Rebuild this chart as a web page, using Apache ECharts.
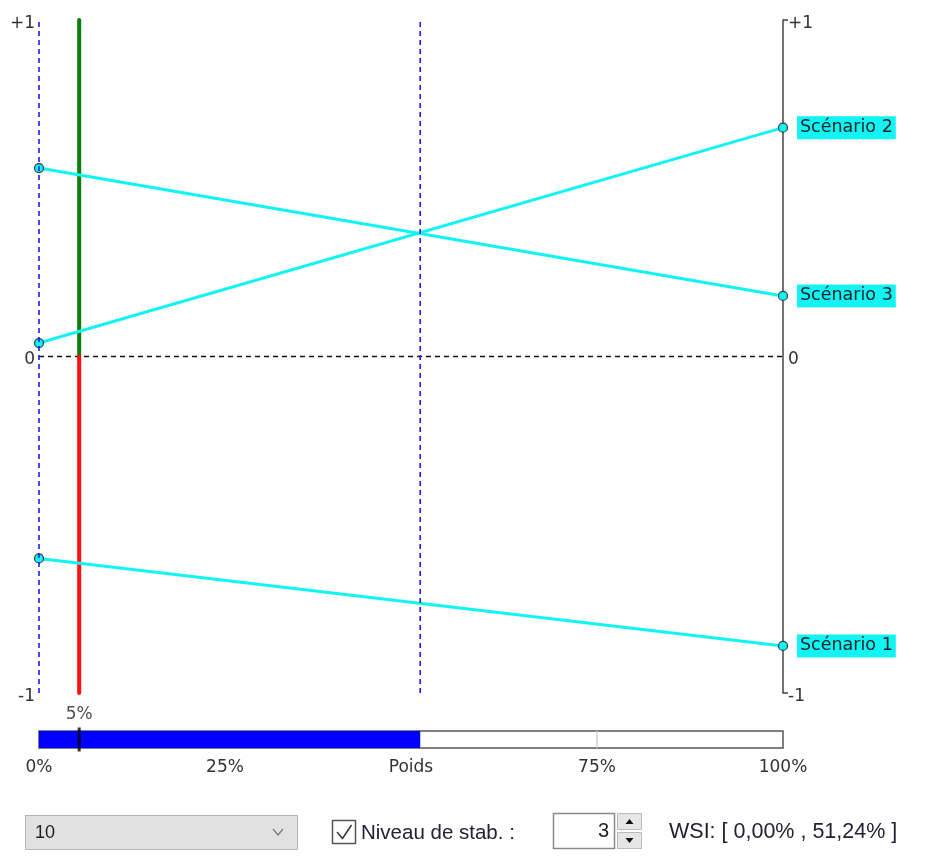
<!DOCTYPE html>
<html>
<head>
<meta charset="utf-8">
<script src="https://cdn.jsdelivr.net/npm/echarts@6/dist/echarts.min.js"></script>
<style>
html,body{margin:0;padding:0;background:#fff;}
#chart{width:944px;height:863px;}
</style>
</head>
<body>
<div id="chart"></div>
<script>
// ---- data ----
const scenarioNames = ['Scénario 1', 'Scénario 2', 'Scénario 3'];
const scoresAtWeight0 = [-0.60, 0.04, 0.56];
const scoresAtWeight100 = [-0.86, 0.68, 0.18];
const currentWeight = 5.4;
const stabilityInterval = [0, 51.24];
const weightTickValues = [0, 25, 50, 75, 100];
const weightTickLabels = ['0%', '25%', 'Poids', '75%', '100%'];
const scoreTickLabels = { '-1': '-1', '0': '0', '1': '+1' };
const stabilityLevel = 3;
const comboValue = '10';

const FONT = 'DejaVu Sans';
const UIFONT = 'Liberation Sans';

const chart = echarts.init(document.getElementById('chart'), null, { renderer: 'canvas' });

const scenarioSeries = scenarioNames.map((name, i) => ({
  name: name,
  type: 'line',
  xAxisIndex: 0,
  yAxisIndex: 0,
  z: 5,
  data: [[0, scoresAtWeight0[i]], [100, scoresAtWeight100[i]]],
  lineStyle: { color: '#12f4f4', width: 3 },
  symbol: 'circle',
  symbolSize: 9,
  itemStyle: { color: '#12f4f4', borderColor: '#2f3f3f', borderWidth: 1.2 },
  endLabel: {
    show: true,
    formatter: name,
    distance: 14,
    color: '#142424',
    fontFamily: FONT,
    fontSize: 17.5,
    backgroundColor: '#12f4f4',
    padding: [4, 3, 1, 3]
  },
  emphasis: { disabled: true },
  animation: false
}));

const scoreLabel = {
  color: '#333', fontFamily: FONT, fontSize: 17,
  formatter: (v) => '{t|' + scoreTickLabels[String(v)] + '}',
  rich: { t: { color: '#333', fontFamily: FONT, fontSize: 17, padding: [7, 0, 0, 0] } }
};

const option = {
  animation: false,
  backgroundColor: '#fff',
  grid: [
    { left: 39, top: 20, width: 744, height: 673 },
    { left: 39, top: 731, width: 744, height: 17 }
  ],
  xAxis: [
    { type: 'value', gridIndex: 0, min: 0, max: 100, show: false },
    {
      type: 'value', gridIndex: 1, min: 0, max: 100, interval: 25, z: 4,
      axisLine: { show: false },
      axisTick: { show: true, inside: true, length: 17, customValues: [75], lineStyle: { color: '#cfcfcf', width: 1.5 } },
      splitLine: { show: false },
      axisLabel: {
        margin: 11, color: '#333', fontFamily: FONT, fontSize: 17,
        customValues: weightTickValues,
        formatter: (v) => weightTickLabels[weightTickValues.indexOf(v)]
      }
    }
  ],
  yAxis: [
    {
      type: 'value', gridIndex: 0, min: -1, max: 1, interval: 1, position: 'left',
      axisLine: { show: false }, axisTick: { show: false }, splitLine: { show: false },
      axisLabel: Object.assign({ margin: 4 }, scoreLabel)
    },
    {
      type: 'value', gridIndex: 0, min: -1, max: 1, interval: 1, position: 'right',
      axisLine: { show: true, lineStyle: { color: '#444', width: 1.5 } },
      axisTick: { show: true, length: 5, customValues: [-1, 1], lineStyle: { color: '#444', width: 1.5 } },
      splitLine: { show: false },
      axisLabel: Object.assign({ margin: 5 }, scoreLabel)
    },
    { type: 'category', gridIndex: 1, data: ['w'], show: false }
  ],
  series: [
    {
      type: 'line', xAxisIndex: 0, yAxisIndex: 0, z: 2,
      data: [[0, 0], [100, 0]], symbol: 'none',
      lineStyle: { color: '#111', width: 1.5, type: [5, 4] }, silent: true
    },
    {
      type: 'line', xAxisIndex: 0, yAxisIndex: 0, z: 3,
      data: [[currentWeight, 0], [currentWeight, 1]], symbol: 'none',
      lineStyle: { color: '#0a7d0a', width: 4, cap: 'round' }, silent: true
    },
    {
      type: 'line', xAxisIndex: 0, yAxisIndex: 0, z: 3,
      data: [[currentWeight, 0], [currentWeight, -1]], symbol: 'none',
      lineStyle: { color: '#ff1010', width: 4, cap: 'round' }, silent: true
    },
    ...scenarioSeries,
    {
      type: 'line', xAxisIndex: 0, yAxisIndex: 0, z: 6,
      data: [[stabilityInterval[0], -1], [stabilityInterval[0], 1]], symbol: 'none',
      lineStyle: { color: '#1a1aff', width: 1.6, type: [5, 4] }, silent: true
    },
    {
      type: 'line', xAxisIndex: 0, yAxisIndex: 0, z: 6,
      data: [[stabilityInterval[1], -1], [stabilityInterval[1], 1]], symbol: 'none',
      lineStyle: { color: '#1a1aff', width: 1.6, type: [5, 4] }, silent: true
    },
    {
      type: 'bar', xAxisIndex: 1, yAxisIndex: 2, z: 2,
      data: [stabilityInterval[1]], barWidth: 17,
      itemStyle: { color: '#0000ff' },
      showBackground: true,
      backgroundStyle: { color: '#ffffff', borderColor: '#555', borderWidth: 1.5 },
      silent: true
    },
    {
      type: 'scatter', xAxisIndex: 1, yAxisIndex: 2, z: 6,
      data: [[currentWeight, 'w']], symbol: 'rect', symbolSize: [3, 24],
      itemStyle: { color: '#000' },
      label: { show: true, position: 'top', distance: 4, formatter: Math.round(currentWeight) + '%', color: '#222', fontFamily: FONT, fontSize: 17 },
      silent: true
    }
  ],
  graphic: [
    // combo box
    { type: 'rect', shape: { x: 25.5, y: 815.5, width: 272, height: 34 }, style: { fill: '#e1e1e1', stroke: '#b4b4b4', lineWidth: 1 } },
    { type: 'text', x: 35, y: 833, style: { text: comboValue, font: '18px ' + UIFONT, fill: '#222', textVerticalAlign: 'middle' } },
    { type: 'polyline', shape: { points: [[273, 829], [278, 835], [283, 829]] }, style: { stroke: '#777', lineWidth: 1.2, fill: null } },
    // checkbox
    { type: 'rect', shape: { x: 332.5, y: 820.5, width: 23, height: 23 }, style: { fill: '#fff', stroke: '#555', lineWidth: 1.5 } },
    { type: 'polyline', shape: { points: [[337, 832], [342.5, 838.5], [351.5, 825]] }, style: { stroke: '#333', lineWidth: 1.5, fill: null } },
    { type: 'text', x: 361, y: 833, style: { text: 'Niveau de stab. :', font: '20.5px ' + UIFONT, fill: '#223', textVerticalAlign: 'middle' } },
    // number box
    { type: 'rect', shape: { x: 553.5, y: 813.5, width: 61, height: 35 }, style: { fill: '#fff', stroke: '#8a8a8a', lineWidth: 1.5 } },
    { type: 'text', x: 609, y: 831, style: { text: String(stabilityLevel), font: '20px ' + UIFONT, fill: '#222', textAlign: 'right', textVerticalAlign: 'middle' } },
    // spinner
    { type: 'rect', shape: { x: 617.5, y: 813.5, width: 24, height: 16 }, style: { fill: '#e6e6e6', stroke: '#bbb', lineWidth: 1 } },
    { type: 'rect', shape: { x: 617.5, y: 832.5, width: 24, height: 16 }, style: { fill: '#e6e6e6', stroke: '#bbb', lineWidth: 1 } },
    { type: 'polygon', shape: { points: [[625.5, 824], [633.5, 824], [629.5, 819]] }, style: { fill: '#111' } },
    { type: 'polygon', shape: { points: [[625.5, 838], [633.5, 838], [629.5, 843]] }, style: { fill: '#111' } },
    // WSI
    { type: 'text', x: 669, y: 832, style: { text: 'WSI: [ ' + stabilityInterval[0].toFixed(2).replace('.', ',') + '% , ' + stabilityInterval[1].toFixed(2).replace('.', ',') + '% ]', font: '21.5px ' + UIFONT, fill: '#223', textVerticalAlign: 'middle' } }
  ]
};

chart.setOption(option);
</script>
</body>
</html>
